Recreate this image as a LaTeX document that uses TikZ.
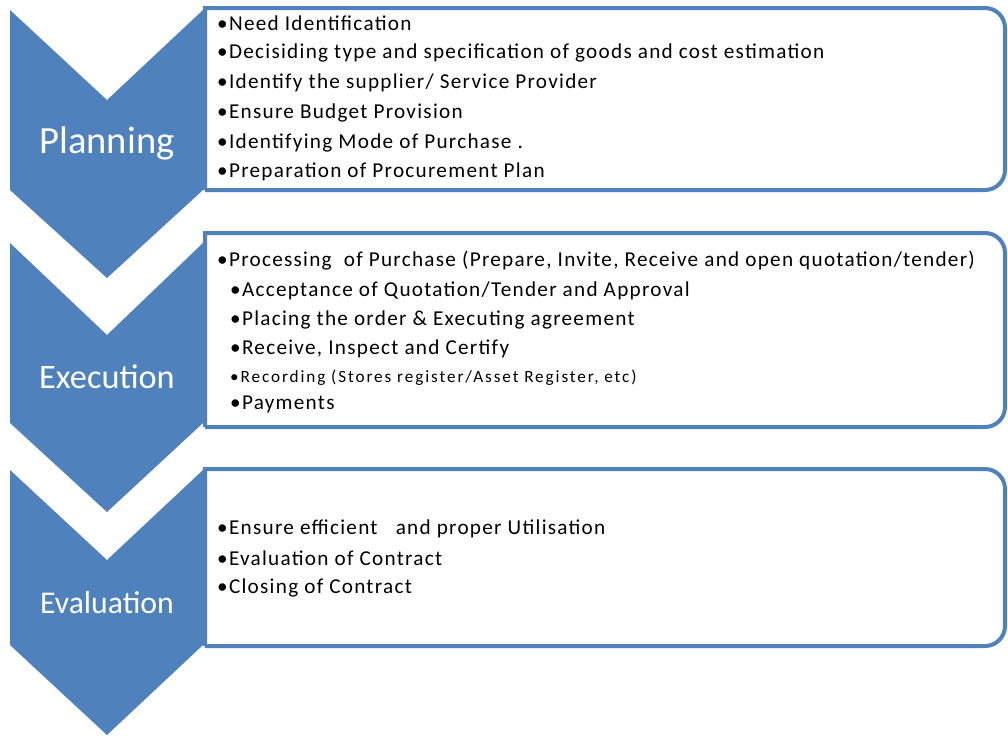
\documentclass[tikz,border=0pt]{standalone}
\usepackage{fontspec}
\setmainfont{Carlito}
\newfontfamily\itemfont{Carlito}[LetterSpace=6]
\newfontfamily\smallitemfont{Carlito}[LetterSpace=11]
\definecolor{stageblue}{HTML}{4F81BD}
\begin{document}
\begin{tikzpicture}[x=1pt,y=-1pt,
  chevron/.style={fill=stageblue, draw=none},
  stage/.style={text=white, anchor=center, inner sep=0pt},
  panel/.style={draw=stageblue, line width=4pt, fill=white},
  item/.style={anchor=west, inner sep=0pt, font=\itemfont\fontsize{21.2}{25}\selectfont},
  smallitem/.style={anchor=west, inner sep=0pt, font=\smallitemfont\fontsize{17.2}{20}\selectfont}]
\useasboundingbox[fill=white] (0,0) rectangle (1008,736);

% stage chevrons
\fill[chevron] (10,10) -- (107,100) -- (203,10) -- (203,190) -- (107,278) -- (10,190) -- cycle;
\fill[chevron] (10,243) -- (107,335) -- (203,243) -- (203,423) -- (107,512) -- (10,423) -- cycle;
\fill[chevron] (10,470) -- (107,560) -- (203,470) -- (203,645) -- (107,735) -- (10,645) -- cycle;

% detail panels, square on the left and rounded on the right
\draw[panel] (205,190) -- (205,8) [rounded corners=20pt] -- (1005,8) -- (1005,190) [sharp corners] -- (205,190);
\draw[panel] (205,427) -- (205,233) [rounded corners=20pt] -- (1005,233) -- (1005,427) [sharp corners] -- (205,427);
\draw[panel] (205,646) -- (205,469) [rounded corners=20pt] -- (1005,469) -- (1005,646) [sharp corners] -- (205,646);

% stage names
\node[stage, font=\fontsize{38.5}{42}\selectfont] (plan) at (107,143) {Planning};
\node[stage, font=\fontsize{34.3}{38}\selectfont] (exec) at (107,377) {Execution};
\node[stage, font=\fontsize{31.7}{36}\selectfont] (eval) at (107,603) {Evaluation};

% planning tasks
\node[item] (p1) at (217,23) {•Need Identification};
\node[item] (p2) at (217,53) {•Decisiding type and specification of goods and cost estimation};
\node[item] (p3) at (217,83) {•Identify the supplier/ Service Provider};
\node[item] (p4) at (217,113) {•Ensure Budget Provision};
\node[item] (p5) at (217,143) {•Identifying Mode of Purchase .};
\node[item] (p6) at (217,172) {•Preparation of Procurement Plan};

% execution tasks
\node[item] (x1) at (217,261) {•Processing\ \ of Purchase (Prepare, Invite, Receive and open quotation/tender)};
\node[item] (x2) at (230,291) {•Acceptance of Quotation/Tender and Approval};
\node[item] (x3) at (230,320) {•Placing the order \& Executing agreement};
\node[item] (x4) at (230,349) {•Receive, Inspect and Certify};
\node[smallitem] (x5) at (230,378) {•Recording (Stores register/Asset Register, etc)};
\node[item] (x6) at (230,404) {•Payments};

% evaluation tasks
\node[item] (v1) at (217,529) {•Ensure efficient\ \ \ and proper Utilisation};
\node[item] (v2) at (217,558) {•Evaluation of Contract};
\node[item] (v3) at (217,588) {•Closing of Contract};
\end{tikzpicture}
\end{document}
